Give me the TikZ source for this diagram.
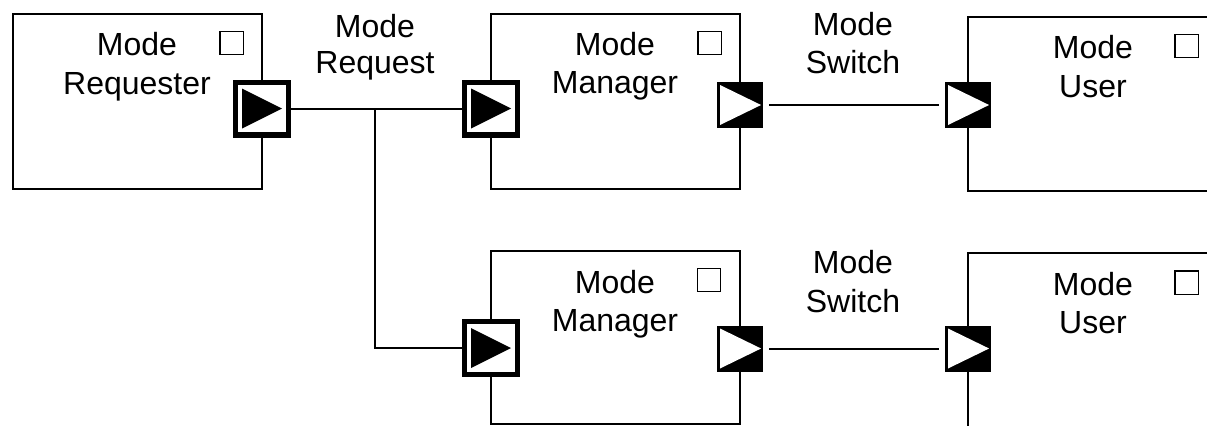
\documentclass[tikz,border=0pt]{standalone}
\usepackage{fontspec}
\setmainfont{Liberation Sans}
\begin{document}
\begin{tikzpicture}[x=0.75pt,y=-0.75pt,
  blk/.style={draw,line width=1.5pt,inner sep=0pt,minimum width=186.75pt},
  flag/.style={draw,line width=1.1pt,inner sep=0pt,minimum size=17.6pt},
  txt/.style={anchor=base,inner sep=0pt,font=\fontsize{24}{28}\selectfont},
  thickport/.style={draw,line width=4.1pt,fill=white,inner sep=0pt,minimum size=39.4pt,
    path picture={\fill[black,shift={(path picture bounding box.center)}] (-15pt,-15pt) -- (15pt,0pt) -- (-15pt,15pt) -- cycle;}},
  hollowport/.style={draw,line width=1.5pt,fill=black,inner sep=0pt,minimum size=33pt,
    path picture={\fill[white,shift={(path picture bounding box.center)}] (-15pt,-15pt) -- (15.8pt,0pt) -- (-15pt,15pt) -- cycle;}},
  conn/.style={line width=1.5pt}]
\useasboundingbox (0,0) rectangle (1207,425);
% boxes
\node[blk,minimum height=131.25pt] (req) at (137.5,101.5) {};
\node[blk,minimum height=131.25pt] (mgr1) at (615.5,101.5) {};
\node[blk,minimum height=129.75pt] (mgr2) at (615.5,337.5) {};
\node[blk,minimum height=130.5pt] (usr1) at (1092.5,104) {};
\node[blk,minimum height=130.5pt] (usr2) at (1092.5,340) {};
% flags
\node[flag] (fq) at (231.5,43) {};
\node[flag] (fm1) at (709.5,43) {};
\node[flag] (fm2) at (709,280) {};
\node[flag] (fu1) at (1186.5,46) {};
\node[flag] (fu2) at (1186.5,282.5) {};
% texts
\node[txt] (tq1) at (137,55) {Mode};
\node[txt] (tq2) at (137,94) {Requester};
\node[txt] (tm1a) at (615,55) {Mode};
\node[txt] (tm1b) at (615,93) {Manager};
\node[txt] (tm2a) at (615,293) {Mode};
\node[txt] (tm2b) at (615,331) {Manager};
\node[txt] (tu1a) at (1093,58) {Mode};
\node[txt] (tu1b) at (1093,97) {User};
\node[txt] (tu2a) at (1093,295) {Mode};
\node[txt] (tu2b) at (1093,333) {User};
\node[txt] (lr1) at (375,37) {Mode};
\node[txt] (lr2) at (375,73) {Request};
\node[txt] (ls1a) at (853,35) {Mode};
\node[txt] (ls1b) at (853,73) {Switch};
\node[txt] (ls2a) at (853,273) {Mode};
\node[txt] (ls2b) at (853,312) {Switch};
% ports and connectors
\coordinate (j1) at (375,108.5);
\node[thickport] (rp) at (262,108.5) {};
\node[thickport] (mp1) at (491,108.5) {};
\node[thickport] (mp2) at (491,348) {};
\node[hollowport] (hp1) at (740,105) {};
\node[hollowport] (hu1) at (968,105) {};
\node[hollowport] (hp2) at (740,348.5) {};
\node[hollowport] (hu2) at (968,348.5) {};
\draw[conn] (rp.east) -- (mp1.west);
\draw[conn] (j1) |- (mp2.west);
\draw[conn,shorten <=4.5pt,shorten >=4.5pt] (hp1.east) -- (hu1.west);
\draw[conn,shorten <=4.5pt,shorten >=4.5pt] (hp2.east) -- (hu2.west);
\end{tikzpicture}
\end{document}
